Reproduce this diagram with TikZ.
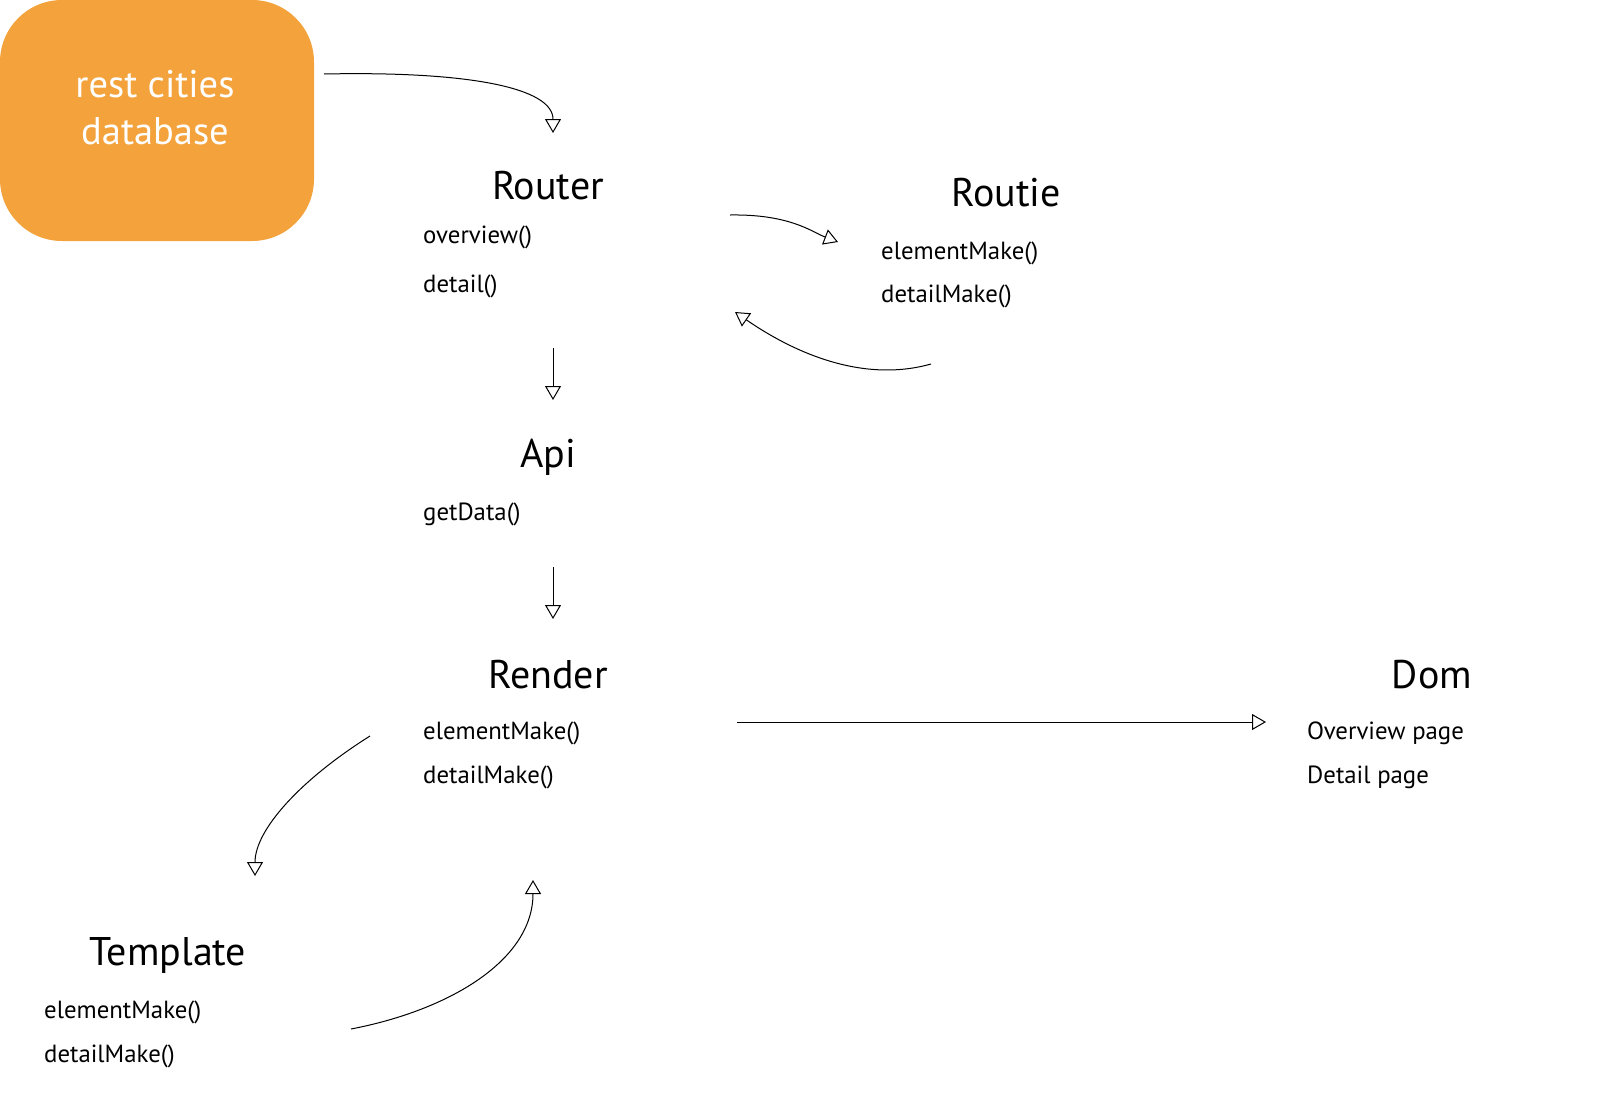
\documentclass[tikz,border=0pt]{standalone}
\usepackage{fontspec}
\setmainfont{PT Sans}
\usetikzlibrary{arrows.meta}
\definecolor{dborange}{RGB}{243,162,60}
\begin{document}
\begin{tikzpicture}[x=1pt,y=-1pt,
  title/.style={anchor=base,inner sep=0pt,font=\fontsize{40}{44}\selectfont},
  meth/.style={anchor=base west,inner sep=0pt,font=\fontsize{24.8}{28}\selectfont},
  conn/.style={line width=1pt,-{Triangle[open,length=14pt,width=16pt,line width=1pt]}},
  dbtext/.style={anchor=base,inner sep=0pt,text=white,font=\fontsize{38.5}{42}\selectfont}]
\useasboundingbox (0,0) rectangle (1597,1095);
% database box
\fill[dborange,rounded corners=62pt] (0,0) rectangle (314,241);
\node[dbtext] (db1) at (155,97) {rest cities};
\node[dbtext] (db2) at (155,144) {database};
% Router
\node[title] (router) at (548,199) {Router};
\node[meth] (rov) at (423,243) {overview()};
\node[meth] (rdet) at (423,292) {detail()};
% Routie
\node[title] (routie) at (1006,206) {Routie};
\node[meth] (tel) at (881,259) {elementMake()};
\node[meth] (tdet) at (881,302) {detailMake()};
% Api
\node[title] (api) at (548,467) {Api};
\node[meth] (get) at (423,520) {getData()};
% Render
\node[title] (render) at (548,688) {Render};
\node[meth] (rel) at (423,739) {elementMake()};
\node[meth] (rdm) at (423,783) {detailMake()};
% Dom
\node[title] (dom) at (1432,688) {Dom};
\node[meth] (dov) at (1307,739) {Overview page};
\node[meth] (ddp) at (1307,783) {Detail page};
% Template
\node[title] (tpl) at (168,965) {Template};
\node[meth] (tel2) at (44,1018) {elementMake()};
\node[meth] (tdm2) at (44,1062) {detailMake()};
% connector end points
\coordinate (a1s) at (324,74);   \coordinate (a1e) at (553,133);
\coordinate (a2s) at (730,215);  \coordinate (a2e) at (838,242);
\coordinate (a3s) at (931,364);  \coordinate (a3e) at (735,312);
\coordinate (a4s) at (553,348);  \coordinate (a4e) at (553,400);
\coordinate (a5s) at (553,567);  \coordinate (a5e) at (553,619);
\coordinate (a6s) at (737,722);  \coordinate (a6e) at (1266,722);
\coordinate (a7s) at (370,736);  \coordinate (a7e) at (255,876);
\coordinate (a8s) at (351,1029); \coordinate (a8e) at (533,880);
% connectors
\draw[conn] (a1s) .. controls (470,71) and (553,88) .. (a1e);
\draw[conn] (a2s) .. controls (790,214) and (812,232) .. (a2e);
\draw[conn] (a3s) .. controls (860,384) and (790,350) .. (a3e);
\draw[conn] (a4s) -- (a4e);
\draw[conn] (a5s) -- (a5e);
\draw[conn] (a6s) -- (a6e);
\draw[conn] (a7s) .. controls (300,780) and (255,830) .. (a7e);
\draw[conn] (a8s) .. controls (450,1010) and (533,960) .. (a8e);
\end{tikzpicture}
\end{document}
